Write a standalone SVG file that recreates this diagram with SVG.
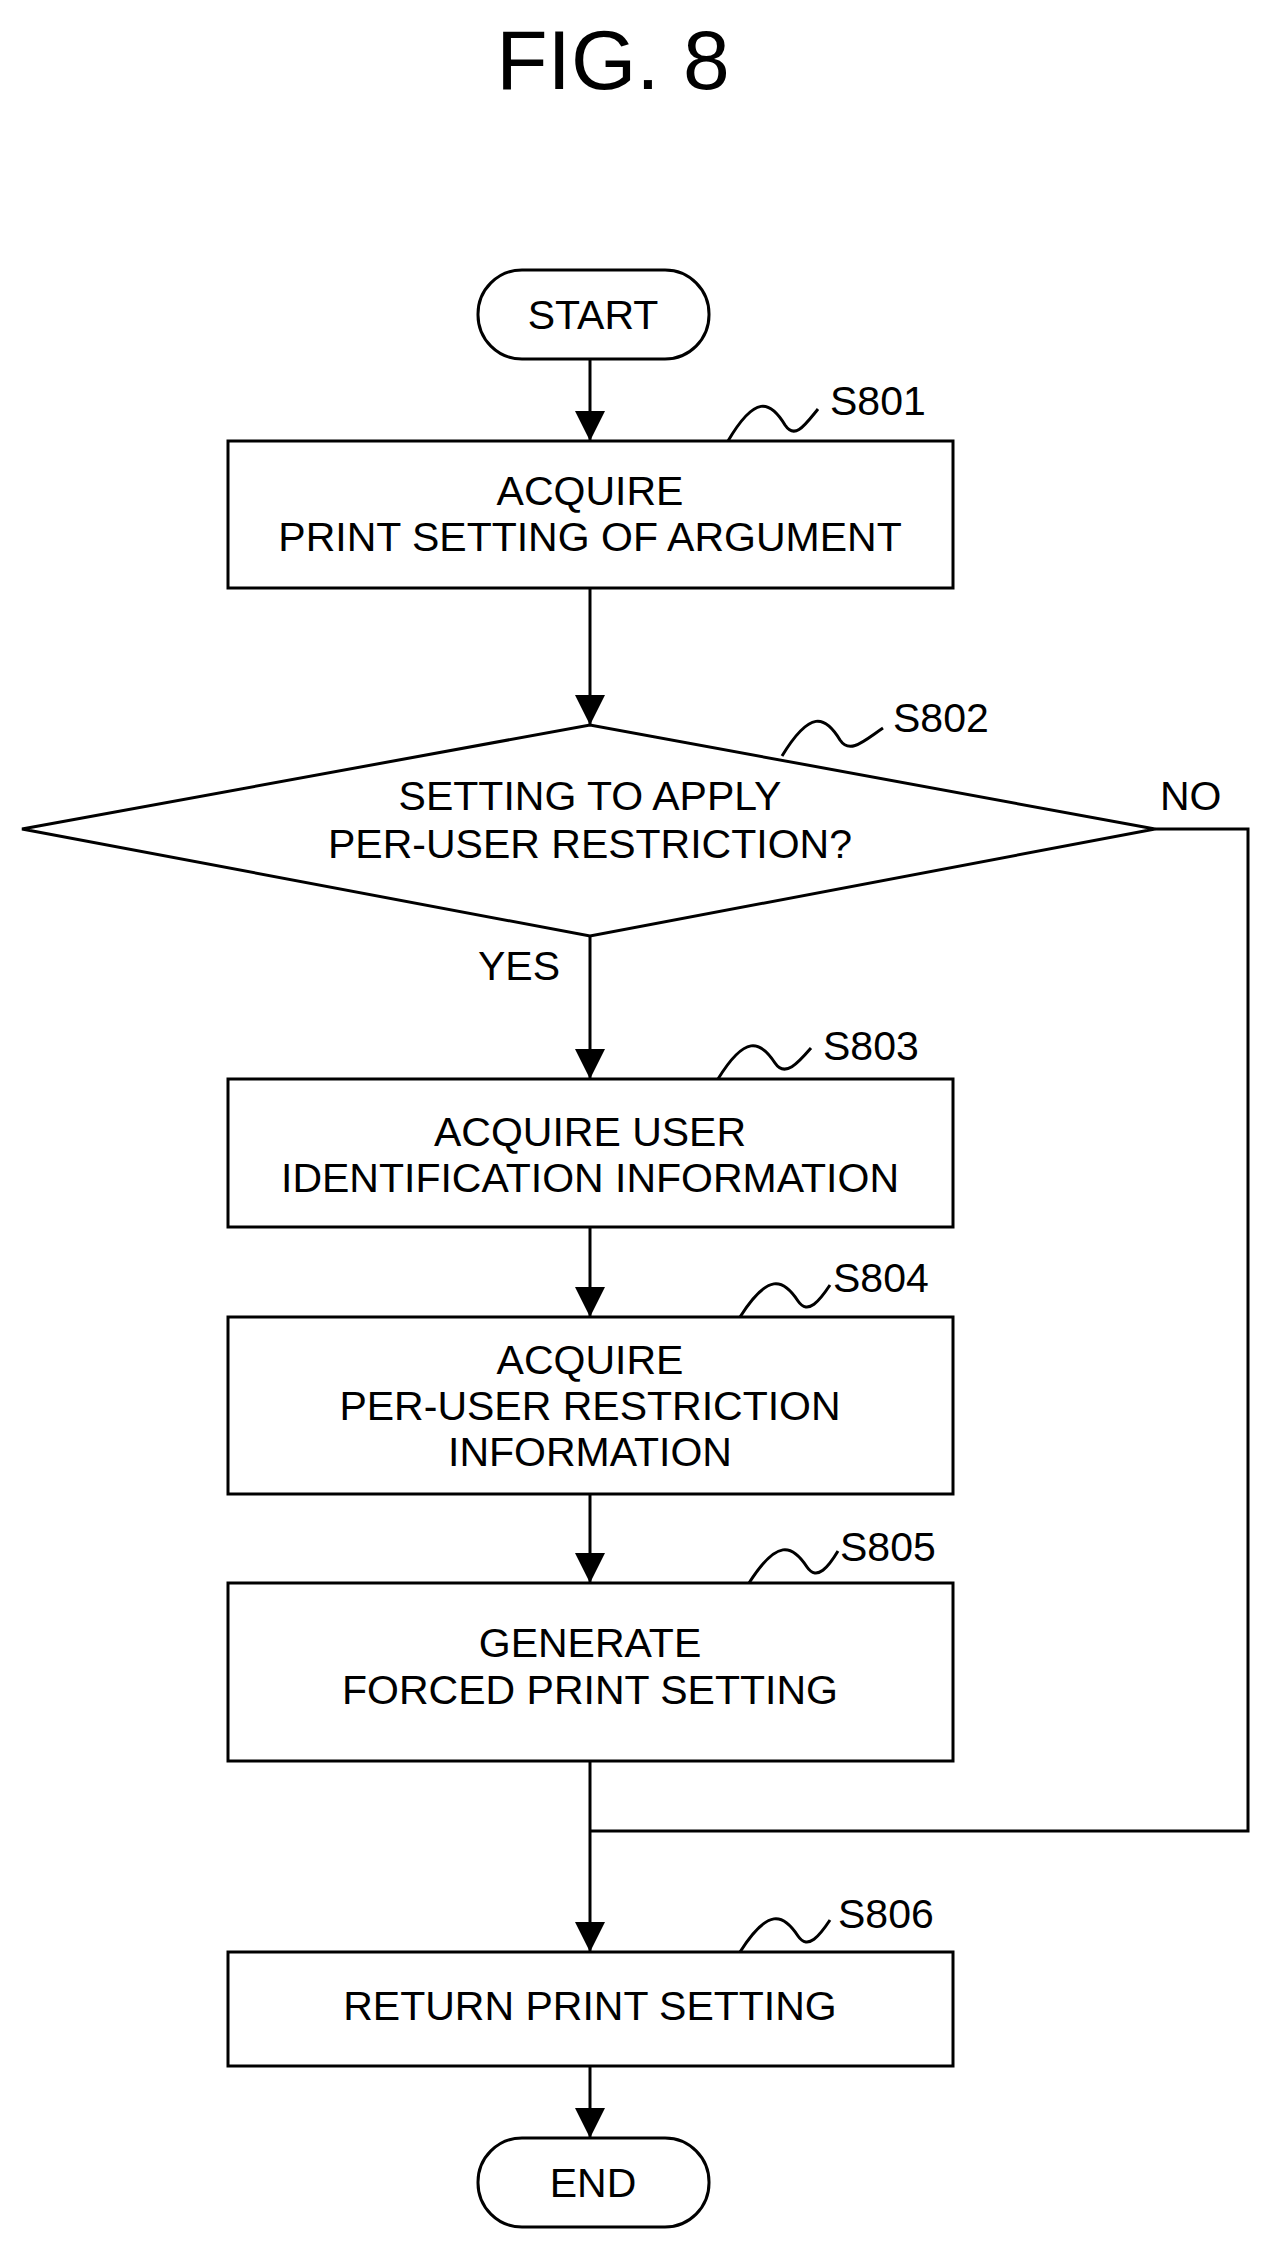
<svg xmlns="http://www.w3.org/2000/svg" width="1269" height="2247" viewBox="0 0 1269 2247">
<style>
.s{fill:#fff;stroke:#000;stroke-width:3}
.t{font-family:"Liberation Sans",Arial,sans-serif;font-size:41px;text-anchor:middle;fill:#000}
.l{font-family:"Liberation Sans",Arial,sans-serif;font-size:41px;fill:#000}
.c{fill:none;stroke:#000;stroke-width:3}
</style>
<defs><marker id="a" viewBox="0 0 10 10" refX="10" refY="5" markerWidth="10" markerHeight="10" markerUnits="userSpaceOnUse" orient="auto"><path d="M0,0L10,5L0,10z" fill="#000"/></marker>
<marker id="b" viewBox="0 0 10 10" refX="10" refY="5" markerWidth="32" markerHeight="30" markerUnits="userSpaceOnUse" orient="auto"><path d="M0,0L10,5L0,10z" fill="#000"/></marker></defs>
<text x="613" y="89" font-family="Liberation Sans,Arial,sans-serif" font-size="84" text-anchor="middle">FIG. 8</text>
<g id="connectors">
<line class="c" x1="590" y1="359" x2="590" y2="441" marker-end="url(#b)"/>
<line class="c" x1="590" y1="588" x2="590" y2="725" marker-end="url(#b)"/>
<line class="c" x1="590" y1="936" x2="590" y2="1079" marker-end="url(#b)"/>
<line class="c" x1="590" y1="1227" x2="590" y2="1317" marker-end="url(#b)"/>
<line class="c" x1="590" y1="1494" x2="590" y2="1583" marker-end="url(#b)"/>
<line class="c" x1="590" y1="1761" x2="590" y2="1952" marker-end="url(#b)"/>
<line class="c" x1="590" y1="2066" x2="590" y2="2138" marker-end="url(#b)"/>
<polyline class="c" points="1155,829 1248,829 1248,1831 590,1831"/>
<text class="l" x="1160" y="810">NO</text>
<text class="l" x="478" y="980">YES</text>
</g>
<g id="start"><rect class="s" x="478" y="270" width="231" height="89" rx="44"/><text class="t" x="593" y="329">START</text></g>
<g id="s801"><rect class="s" x="228" y="441" width="725" height="147"/><text class="t" x="590" y="505">ACQUIRE</text><text class="t" x="590" y="551">PRINT SETTING OF ARGUMENT</text>
<path class="c" d="M728,441C755,395 770,400 785,425C795,440 805,425 818,409"/><text class="l" x="830" y="415">S801</text></g>
<g id="s802"><polygon class="s" points="22,829 590,725 1155,829 590,936"/><text class="t" x="590" y="810">SETTING TO APPLY</text><text class="t" x="590" y="858">PER-USER RESTRICTION?</text>
<path class="c" d="M782,756C810,710 825,715 840,740C850,755 865,740 883,728"/><text class="l" x="893" y="732">S802</text></g>
<g id="s803"><rect class="s" x="228" y="1079" width="725" height="148"/><text class="t" x="590" y="1146">ACQUIRE USER</text><text class="t" x="590" y="1192">IDENTIFICATION INFORMATION</text>
<path class="c" d="M718,1079C745,1035 760,1040 775,1063C785,1078 798,1063 811,1048"/><text class="l" x="823" y="1060">S803</text></g>
<g id="s804"><rect class="s" x="228" y="1317" width="725" height="177"/><text class="t" x="590" y="1374">ACQUIRE</text><text class="t" x="590" y="1420">PER-USER RESTRICTION</text><text class="t" x="590" y="1466">INFORMATION</text>
<path class="c" d="M740,1317C768,1273 783,1278 798,1301C808,1316 820,1300 830,1285"/><text class="l" x="833" y="1292">S804</text></g>
<g id="s805"><rect class="s" x="228" y="1583" width="725" height="178"/><text class="t" x="590" y="1657">GENERATE</text><text class="t" x="590" y="1704">FORCED PRINT SETTING</text>
<path class="c" d="M749,1583C777,1539 792,1544 807,1567C817,1582 829,1566 838,1551"/><text class="l" x="840" y="1561">S805</text></g>
<g id="s806"><rect class="s" x="228" y="1952" width="725" height="114"/><text class="t" x="590" y="2020">RETURN PRINT SETTING</text>
<path class="c" d="M740,1952C768,1908 783,1913 798,1936C808,1951 820,1935 830,1920"/><text class="l" x="838" y="1928">S806</text></g>
<g id="end"><rect class="s" x="478" y="2138" width="231" height="89" rx="44"/><text class="t" x="593" y="2197">END</text></g>
</svg>
